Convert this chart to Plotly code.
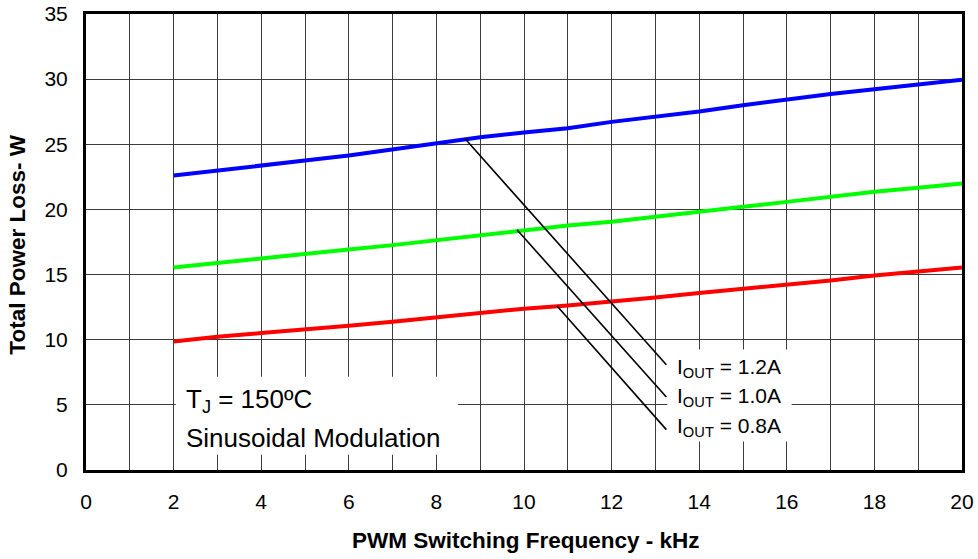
import plotly.graph_objects as go

# ---- data ----
freq_khz = [2, 3, 4, 5, 6, 7, 8, 9, 10, 11, 12, 13, 14, 15, 16, 17, 18, 19, 20]
loss_1p2A = [22.6, 22.96, 23.34, 23.75, 24.14, 24.62, 25.13, 25.54, 25.9, 26.23,
             26.72, 27.13, 27.51, 28.0, 28.46, 28.86, 29.22, 29.58, 29.95]
loss_1p0A = [15.55, 15.9, 16.29, 16.62, 16.93, 17.26, 17.64, 18.0, 18.41, 18.77,
             19.05, 19.41, 19.82, 20.2, 20.58, 20.99, 21.35, 21.66, 21.99]
loss_0p8A = [9.87, 10.23, 10.51, 10.77, 11.07, 11.38, 11.71, 12.05, 12.38, 12.63,
             12.91, 13.24, 13.58, 13.89, 14.2, 14.55, 14.93, 15.24, 15.55]

series_names = ["I<sub>OUT</sub> = 1.2A", "I<sub>OUT</sub> = 1.0A", "I<sub>OUT</sub> = 0.8A"]
series_values = [loss_1p2A, loss_1p0A, loss_0p8A]
series_colors = ["#0000FF", "#00FF00", "#FF0000"]

x_ticks = [0, 2, 4, 6, 8, 10, 12, 14, 16, 18, 20]
y_ticks = [0, 5, 10, 15, 20, 25, 30, 35]

# callout leader lines: (start on curve) -> (end at label)
leader_start = [(8.65, 25.44), (9.84, 18.44), (10.75, 12.61)]
leader_end = [(13.25, 8.08), (13.25, 5.6), (13.25, 3.1)]
label_pos = [(13.44, 7.85), (13.44, 5.63), (13.44, 3.33)]

FONT = "Arial, Liberation Sans, sans-serif"

fig = go.Figure()
for name, vals, col in zip(series_names, series_values, series_colors):
    fig.add_trace(go.Scatter(x=freq_khz, y=vals, mode="lines", name=name,
                             line=dict(color=col, width=4), showlegend=False,
                             hoverinfo="skip"))

shapes = []
# white label backgrounds (between grid and traces)
shapes.append(dict(type="rect", xref="x", yref="y", x0=2.05, x1=8.49, y0=1.18, y1=7.16,
                   fillcolor="white", line=dict(width=0), layer="between"))
shapes.append(dict(type="rect", xref="x", yref="y", x0=13.27, x1=16.11, y0=2.18, y1=9.24,
                   fillcolor="white", line=dict(width=0), layer="between"))
for (x0, y0), (x1, y1) in zip(leader_start, leader_end):
    shapes.append(dict(type="line", xref="x", yref="y", x0=x0, y0=y0, x1=x1, y1=y1,
                       line=dict(color="black", width=1.6), layer="above"))

annotations = []
for name, (lx, ly) in zip(series_names, label_pos):
    annotations.append(dict(x=lx, y=ly, xref="x", yref="y", text=name, showarrow=False,
                            xanchor="left", yanchor="middle",
                            font=dict(family=FONT, size=21, color="black")))
annotations.append(dict(x=2.24, y=5.35, xref="x", yref="y", text="T<sub>J</sub> = 150ºC",
                        showarrow=False, xanchor="left", yanchor="middle",
                        font=dict(family=FONT, size=26, color="black")))
annotations.append(dict(x=2.24, y=2.48, xref="x", yref="y", text="Sinusoidal Modulation",
                        showarrow=False, xanchor="left", yanchor="middle",
                        font=dict(family=FONT, size=26, color="black")))
# axis titles
annotations.append(dict(x=0.502, y=-0.1547, xref="paper", yref="paper",
                        text="<b>PWM Switching Frequency - kHz</b>", showarrow=False,
                        xanchor="center", yanchor="middle",
                        font=dict(family=FONT, size=22.5, color="black")))
annotations.append(dict(x=-0.0777, y=0.494, xref="paper", yref="paper",
                        text="<b>Total Power Loss- W</b>", showarrow=False, textangle=-90,
                        xanchor="center", yanchor="middle",
                        font=dict(family=FONT, size=22.5, color="black")))

fig.update_layout(
    template="none",
    width=978, height=559,
    margin=dict(l=86.4, r=15.6, t=14.1, b=88.6, pad=0, autoexpand=False),
    paper_bgcolor="white", plot_bgcolor="white",
    shapes=shapes, annotations=annotations,
    font=dict(family=FONT, size=21, color="black"),
)
fig.update_xaxes(range=[0, 20], tickmode="array", tickvals=x_ticks,
                 ticktext=[str(v) for v in x_ticks], showgrid=True,
                 gridcolor="#3c3c3c", gridwidth=1,
                 minor=dict(dtick=1, showgrid=True, gridcolor="#3c3c3c", gridwidth=1),
                 showline=True, linecolor="black", linewidth=3, mirror=True,
                 zeroline=False, ticks="", ticklabelstandoff=11, automargin=False,
                 tickfont=dict(family=FONT, size=21, color="black"))
fig.update_yaxes(range=[0, 35], tickmode="array", tickvals=y_ticks,
                 ticktext=[str(v) for v in y_ticks], showgrid=True,
                 gridcolor="#3c3c3c", gridwidth=1,
                 showline=True, linecolor="black", linewidth=3, mirror=True,
                 zeroline=False, ticks="", ticklabelstandoff=11, automargin=False,
                 tickfont=dict(family=FONT, size=21, color="black"))

fig.write_html("out.html", config={"displayModeBar": False},
               post_script="document.body.style.margin='0';"
                           "document.body.style.overflow='hidden';")
